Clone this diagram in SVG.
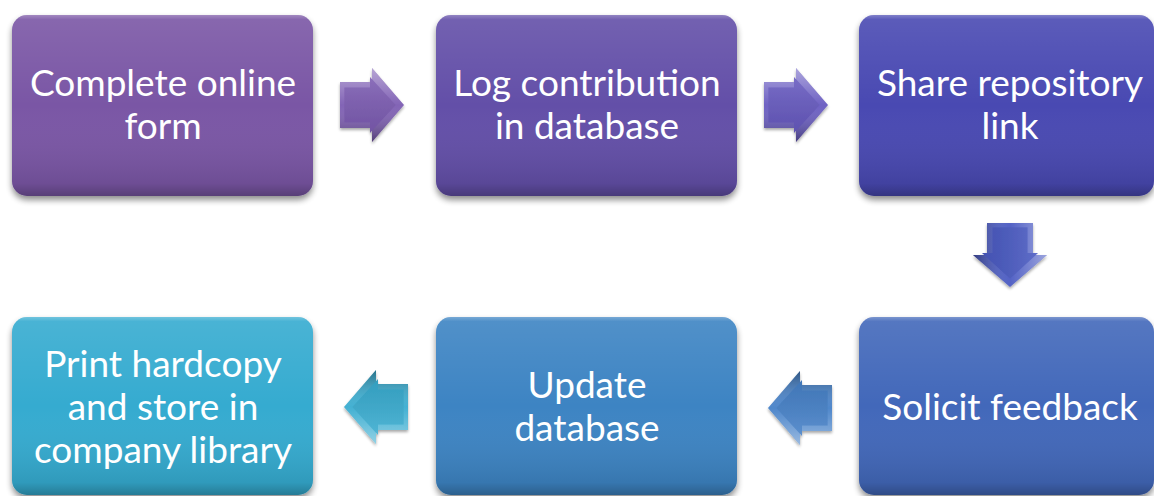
<svg xmlns="http://www.w3.org/2000/svg" xmlns:xlink="http://www.w3.org/1999/xlink" width="1154" height="496" viewBox="0 0 1154 496">
  <style>
    .box-shape { filter: url(#boxShadow); }
    .label { font-family: 'Lato', 'Open Sans', 'Liberation Sans', sans-serif; font-size: 37px; fill: #ffffff; text-anchor: middle; }
  </style>
  <defs>
    <!-- soft drop shadow under each process box -->
    <filter id="boxShadow" x="-5%" y="-5%" width="110%" height="120%">
      <feGaussianBlur in="SourceAlpha" stdDeviation="3"/>
      <feOffset dx="0" dy="4" result="blur"/>
      <feComponentTransfer><feFuncA type="linear" slope="0.45"/></feComponentTransfer>
      <feMerge><feMergeNode/><feMergeNode in="SourceGraphic"/></feMerge>
    </filter>
    <filter id="arrowShadow" x="-20%" y="-20%" width="140%" height="150%">
      <feGaussianBlur in="SourceAlpha" stdDeviation="1.5"/>
      <feOffset dx="0" dy="2"/>
      <feComponentTransfer><feFuncA type="linear" slope="0.35"/></feComponentTransfer>
      <feMerge><feMergeNode/><feMergeNode in="SourceGraphic"/></feMerge>
    </filter>
    <!-- shared shading laid over the flat box colour -->
    <linearGradient id="boxShade" x1="0" y1="0" x2="0" y2="1">
      <stop offset="0" stop-color="#ffffff" stop-opacity="0.30"/>
      <stop offset="0.025" stop-color="#ffffff" stop-opacity="0.10"/>
      <stop offset="0.5" stop-color="#ffffff" stop-opacity="0"/>
      <stop offset="0.93" stop-color="#000000" stop-opacity="0.10"/>
      <stop offset="1" stop-color="#000000" stop-opacity="0.28"/>
    </linearGradient>
    <!-- bevel shading for the block arrows -->
    <linearGradient id="bevelOuter" x1="0" y1="0" x2="0" y2="1">
      <stop offset="0" stop-color="#ffffff" stop-opacity="0.45"/>
      <stop offset="0.5" stop-color="#ffffff" stop-opacity="0.05"/>
      <stop offset="1" stop-color="#000000" stop-opacity="0.35"/>
    </linearGradient>
    <linearGradient id="bevelInner" x1="0" y1="0" x2="0" y2="1">
      <stop offset="0" stop-color="#ffffff" stop-opacity="0.12"/>
      <stop offset="1" stop-color="#000000" stop-opacity="0.08"/>
    </linearGradient>
    <!-- block arrow pointing right, centred on the origin -->
    <path id="arrowShape" d="M-32,-23 H0 V-37 L32,0 L0,37 V23 H-32 Z"/>
    <g id="blockArrow">
      <use xlink:href="#arrowShape"/>
      <use xlink:href="#arrowShape" fill="url(#bevelOuter)"/>
      <use xlink:href="#arrowShape" transform="translate(-2,0) scale(0.8,0.76)"/>
      <use xlink:href="#arrowShape" transform="translate(-2,0) scale(0.8,0.76)" fill="url(#bevelInner)"/>
    </g>
  </defs>

  <!-- process steps -->
  <g id="step-complete-form">
    <rect class="box-shape" x="12" y="15" width="301" height="181" rx="15" fill="#7a57a5"/>
    <rect x="12" y="15" width="301" height="181" rx="15" fill="url(#boxShade)"/>
    <text class="label" x="163" y="96">Complete online</text>
    <text class="label" x="163" y="139">form</text>
  </g>
  <g id="step-log-contribution">
    <rect class="box-shape" x="436" y="15" width="301" height="181" rx="15" fill="#634fa8"/>
    <rect x="436" y="15" width="301" height="181" rx="15" fill="url(#boxShade)"/>
    <text class="label" x="587" y="96">Log contribution</text>
    <text class="label" x="587" y="139">in database</text>
  </g>
  <g id="step-share-link">
    <rect class="box-shape" x="859" y="15" width="295" height="181" rx="15" fill="#4a4ab2"/>
    <rect x="859" y="15" width="295" height="181" rx="15" fill="url(#boxShade)"/>
    <text class="label" x="1010" y="96">Share repository</text>
    <text class="label" x="1010" y="139">link</text>
  </g>
  <g id="step-solicit-feedback">
    <rect class="box-shape" x="859" y="317" width="295" height="178" rx="15" fill="#4367ba"/>
    <rect x="859" y="317" width="295" height="178" rx="15" fill="url(#boxShade)"/>
    <text class="label" x="1010" y="420">Solicit feedback</text>
  </g>
  <g id="step-update-database">
    <rect class="box-shape" x="436" y="317" width="301" height="178" rx="15" fill="#3c84c3"/>
    <rect x="436" y="317" width="301" height="178" rx="15" fill="url(#boxShade)"/>
    <text class="label" x="587" y="398">Update</text>
    <text class="label" x="587" y="441">database</text>
  </g>
  <g id="step-print-hardcopy">
    <rect class="box-shape" x="12" y="317" width="301" height="178" rx="15" fill="#36abd0"/>
    <rect x="12" y="317" width="301" height="178" rx="15" fill="url(#boxShade)"/>
    <text class="label" x="163" y="377">Print hardcopy</text>
    <text class="label" x="163" y="420">and store in</text>
    <text class="label" x="163" y="463">company library</text>
  </g>

  <!-- flow arrows -->
  <g id="connectors" filter="url(#arrowShadow)">
    <use xlink:href="#blockArrow" fill="#7c5cb2" transform="translate(372,105)"/>
    <use xlink:href="#blockArrow" fill="#675ac0" transform="translate(796,105)"/>
    <use xlink:href="#blockArrow" fill="#4a5ac2" transform="translate(1010,255) rotate(90)"/>
    <use xlink:href="#blockArrow" fill="#4681c8" transform="translate(800,408) rotate(180)"/>
    <use xlink:href="#blockArrow" fill="#39acd0" transform="translate(376,407) rotate(180)"/>
  </g>
</svg>
